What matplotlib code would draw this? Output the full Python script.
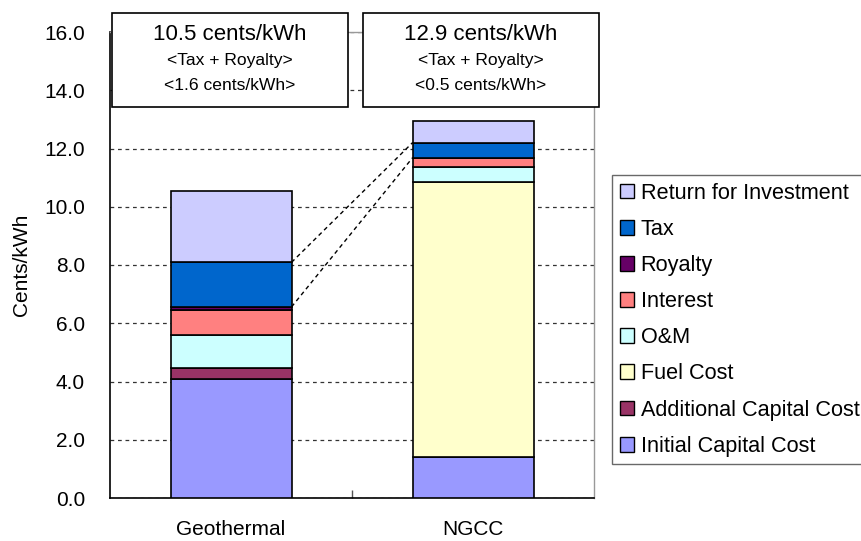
import matplotlib
matplotlib.use("Agg")
import matplotlib.pyplot as plt
from matplotlib.patches import Rectangle, Patch
import numpy as np

plt.rcParams['font.family'] = ['Liberation Sans', 'DejaVu Sans']

categories = ["Geothermal", "NGCC"]
series_names = ["Initial Capital Cost", "Additional Capital Cost", "Fuel Cost", "O&M",
                "Interest", "Royalty", "Tax", "Return for Investment"]
initial_capital = [4.10, 1.40]
additional_capital = [0.37, 0.00]
fuel_cost = [0.00, 9.45]
om_cost = [1.12, 0.52]
interest = [0.87, 0.31]
royalty = [0.10, 0.00]
tax = [1.53, 0.52]
return_inv = [2.45, 0.74]
yticks = [0, 2, 4, 6, 8, 10, 12, 14, 16]

series_values = [initial_capital, additional_capital, fuel_cost, om_cost,
                 interest, royalty, tax, return_inv]
colors = ["#9999FF", "#993366", "#FFFFCC", "#CCFFFF", "#FF8080", "#660066", "#0066CC", "#CCCCFF"]

W, H = 862, 541
fig = plt.figure(figsize=(W / 100, H / 100), dpi=100)
ax = fig.add_axes([110 / W, 1 - 498 / H, (594 - 110) / W, (498 - 32) / H])

x = np.arange(len(categories))
bw = 0.5
bottom = np.zeros(len(categories))
tops = {}
for name, vals, c in zip(series_names, series_values, colors):
    vals = np.array(vals, dtype=float)
    ax.bar(x, vals, bw, bottom=bottom, color=c, edgecolor="black", linewidth=1.2, zorder=3)
    tops[name] = (bottom.copy(), bottom + vals)
    bottom = bottom + vals
totals = bottom

# series lines for Tax + Royalty
low0 = tops["Royalty"][1]
high0 = tops["Tax"][1]
for ys in (low0, high0):
    ax.plot([x[0] + bw / 2, x[1] - bw / 2], [ys[0], ys[1]], color="black",
            linestyle=(0, (3, 2.5)), linewidth=1.0, zorder=2)

ax.set_xlim(-0.5, 1.5)
ax.set_ylim(0, 16)
ax.set_yticks(yticks)
ax.set_yticklabels([f"{v:.1f}" for v in yticks], fontsize=15)
ax.set_xticks(x)
ax.set_xticklabels(categories, fontsize=15)
ax.set_xticks([0.5], minor=True)
ax.tick_params(axis="x", which="major", length=0, pad=16)
ax.tick_params(axis="x", which="minor", length=6, direction="in", width=1, color="#555555")
ax.tick_params(axis="y", length=0, pad=18)
ax.yaxis.grid(True, color="#333333", linestyle=(0, (3, 3)), linewidth=0.9)
ax.set_axisbelow(True)
for s in ["left", "bottom"]:
    ax.spines[s].set_color("black")
    ax.spines[s].set_linewidth(1.2)
for s in ["top", "right"]:
    ax.spines[s].set_color("#999999")
    ax.spines[s].set_linewidth(1.0)

ax.set_ylabel("Cents/kWh", fontsize=15)
ax.yaxis.set_label_coords(-0.163, 0.5)

# annotation boxes
tr = fig.transFigure
boxes = [(112, 348), (363, 599)]
for i, (x0, x1) in enumerate(boxes):
    r = Rectangle((x0 / W, 1 - 107 / H), (x1 - x0) / W, (107 - 13) / H, transform=tr,
                  facecolor="white", edgecolor="black", linewidth=1.2, zorder=10)
    fig.add_artist(r)
    cx = (x0 + x1) / 2 / W
    tr_val = tax[i] + royalty[i]
    fig.text(cx, 1 - 34 / H, f"{totals[i]:.1f} cents/kWh", ha="center", va="center",
             fontsize=16, zorder=11)
    fig.text(cx, 1 - 60 / H, "<Tax + Royalty>", ha="center", va="center",
             fontsize=12.6, zorder=11)
    fig.text(cx, 1 - 85 / H, f"<{tr_val:.1f} cents/kWh>", ha="center", va="center",
             fontsize=12.6, zorder=11)

handles = [Patch(facecolor=c, edgecolor="black", linewidth=1.0) for c in colors][::-1]
labels = series_names[::-1]
leg = fig.legend(handles, labels, loc="upper left", bbox_to_anchor=(612 / W, 1 - 175 / H),
                 fontsize=15.6, frameon=True, fancybox=False, edgecolor="#444444",
                 handlelength=0.67, handleheight=0.67, handletextpad=0.3,
                 labelspacing=0.7, borderpad=0.35, borderaxespad=0)
leg.get_frame().set_linewidth(1.0)

fig.savefig("out.png", dpi=100)
